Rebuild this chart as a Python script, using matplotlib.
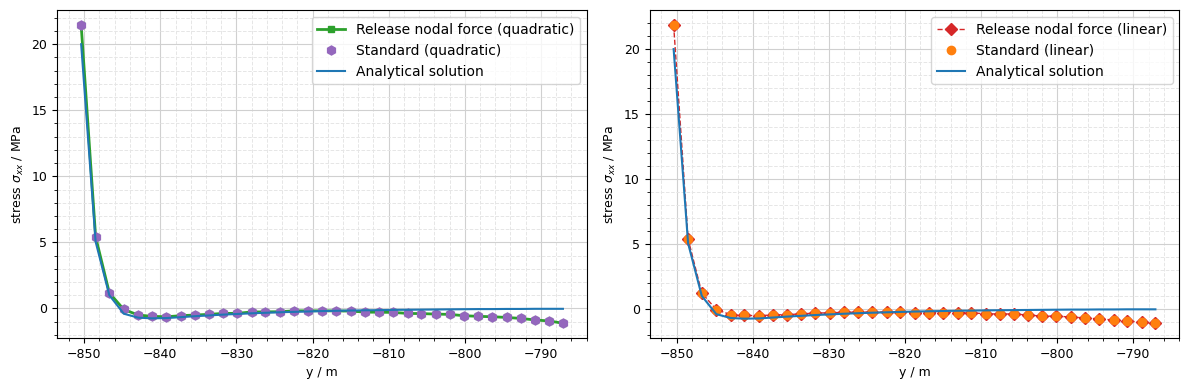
import matplotlib.pyplot as plt
from matplotlib.ticker import AutoMinorLocator

# node positions (m)
y_nodes = [-850.4, -848.5, -846.7, -844.8, -842.9, -841.1, -839.2, -837.3, -835.5,
           -833.6, -831.8, -829.9, -828.0, -826.2, -824.3, -822.4, -820.6, -818.7,
           -816.9, -815.0, -813.1, -811.3, -809.4, -807.5, -805.7, -803.8, -802.0,
           -800.1, -798.2, -796.4, -794.5, -792.6, -790.8, -788.9, -787.1]

# stress sigma_xx (MPa)
release_quad = [21.45, 5.42, 1.18, -0.08, -0.50, -0.60, -0.63, -0.55, -0.50, -0.45,
                -0.38, -0.37, -0.27, -0.26, -0.25, -0.18, -0.18, -0.18, -0.19, -0.20,
                -0.28, -0.29, -0.30, -0.38, -0.39, -0.43, -0.45, -0.55, -0.60, -0.63,
                -0.68, -0.76, -0.87, -0.95, -1.12]
standard_quad = [21.45, 5.42, 1.18, -0.08, -0.50, -0.60, -0.63, -0.55, -0.50, -0.45,
                 -0.38, -0.37, -0.27, -0.26, -0.25, -0.18, -0.18, -0.18, -0.19, -0.20,
                 -0.28, -0.29, -0.30, -0.38, -0.39, -0.43, -0.45, -0.55, -0.60, -0.63,
                 -0.68, -0.76, -0.87, -0.95, -1.12]
release_lin = [21.85, 5.38, 1.23, -0.05, -0.44, -0.50, -0.52, -0.46, -0.44, -0.38,
               -0.32, -0.30, -0.26, -0.25, -0.24, -0.24, -0.22, -0.28, -0.28, -0.28,
               -0.28, -0.29, -0.38, -0.39, -0.39, -0.47, -0.55, -0.56, -0.62, -0.69,
               -0.77, -0.85, -0.93, -1.02, -1.10]
standard_lin = [21.85, 5.38, 1.23, -0.05, -0.44, -0.50, -0.52, -0.46, -0.44, -0.38,
                -0.32, -0.30, -0.26, -0.25, -0.24, -0.24, -0.22, -0.28, -0.28, -0.28,
                -0.28, -0.29, -0.38, -0.39, -0.39, -0.47, -0.55, -0.56, -0.62, -0.69,
                -0.77, -0.85, -0.93, -1.02, -1.10]
analytical = [20.0, 5.05, 1.0, -0.40, -0.70, -0.75, -0.73, -0.66, -0.59, -0.53,
              -0.47, -0.42, -0.37, -0.33, -0.29, -0.26, -0.23, -0.20, -0.18, -0.16,
              -0.14, -0.13, -0.11, -0.10, -0.09, -0.08, -0.07, -0.06, -0.05, -0.05,
              -0.04, -0.04, -0.03, -0.03, -0.03]


def style_axes(ax):
    ax.xaxis.set_minor_locator(AutoMinorLocator())
    ax.yaxis.set_minor_locator(AutoMinorLocator())
    ax.grid(which='major', color='#d0d0d0', linewidth=0.8)
    ax.grid(which='minor', color='#e6e6e6', linestyle='--', linewidth=0.7)
    ax.set_axisbelow(True)
    ax.set_xlabel('y / m', fontsize=9)
    ax.set_ylabel(r'stress $\sigma_{xx}$ / MPa', fontsize=9)
    ax.tick_params(labelsize=9)
    ax.legend(loc='upper right', fontsize=10)


fig, (ax1, ax2) = plt.subplots(1, 2, figsize=(11.89, 3.9), dpi=100)

ax1.plot(y_nodes, release_quad, color='tab:green', marker='s', markersize=5,
         linewidth=2, label='Release nodal force (quadratic)')
ax1.plot(y_nodes, standard_quad, color='tab:purple', marker='h', markersize=6.5,
         linestyle='none', label='Standard (quadratic)')
ax1.plot(y_nodes, analytical, color='tab:blue', linewidth=1.5, label='Analytical solution')
style_axes(ax1)

ax2.plot(y_nodes, release_lin, color='tab:red', marker='D', markersize=6,
         linestyle='--', linewidth=1, label='Release nodal force (linear)')
ax2.plot(y_nodes, standard_lin, color='tab:orange', marker='o', markersize=6,
         linestyle='none', label='Standard (linear)')
ax2.plot(y_nodes, analytical, color='tab:blue', linewidth=1.5, label='Analytical solution')
style_axes(ax2)

fig.subplots_adjust(left=0.048, right=0.992, bottom=0.133, top=0.974, wspace=0.118)
fig.savefig('out.png', dpi=100)
